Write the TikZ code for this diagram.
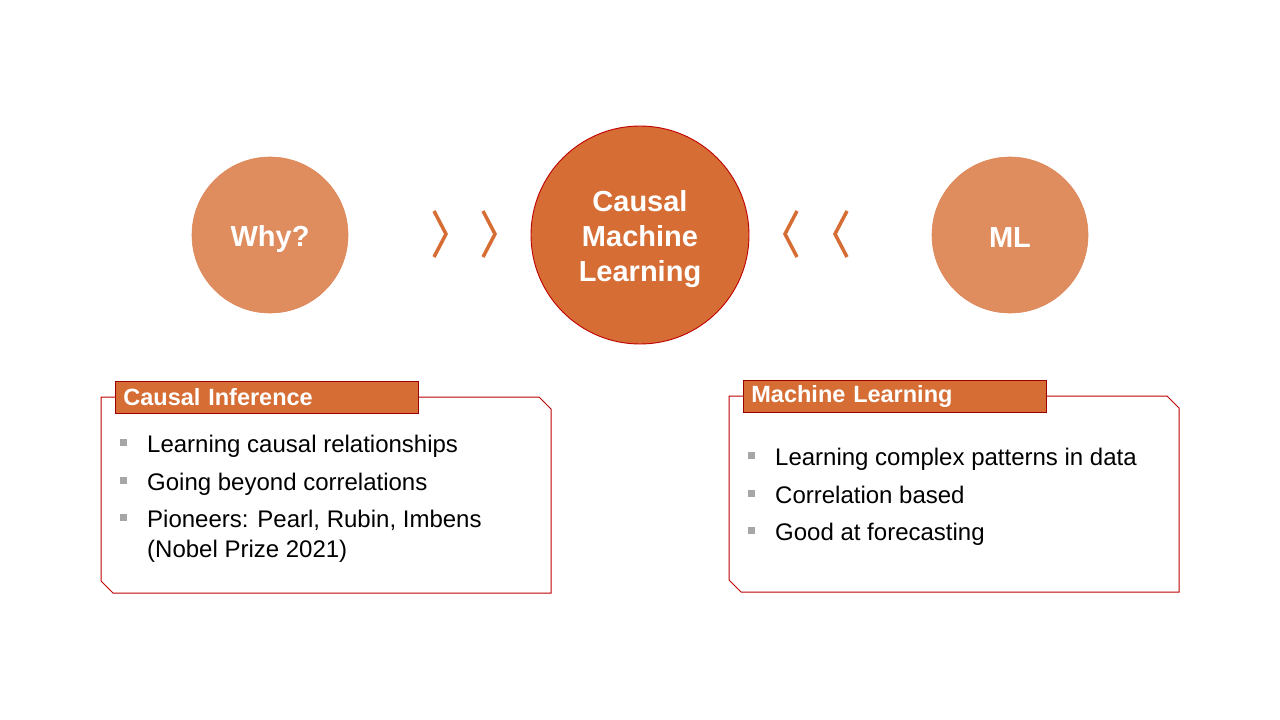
\documentclass[tikz,border=0pt]{standalone}
\usepackage{fontspec}
\setmainfont{Liberation Sans}
\begin{document}
\definecolor{orng}{HTML}{D56D34}
\definecolor{lorng}{HTML}{DF8C5E}
\definecolor{edge}{HTML}{C00000}
\definecolor{bgrey}{HTML}{A6A6A6}
\begin{tikzpicture}[x=1pt,y=-1pt,
  bigcirc/.style={circle,fill=orng,draw=edge,line width=0.9pt,minimum size=218pt,inner sep=0pt},
  sidecirc/.style={circle,fill=lorng,draw=lorng!85!orng,line width=0.6pt,minimum size=156pt,inner sep=0pt},
  ctext/.style={inner sep=0pt,text=white,font=\fontsize{29}{35}\selectfont\bfseries,align=center},
  chev/.style={draw=orng,line width=3.5pt},
  panel/.style={draw=edge,line width=1pt},
  tab/.style={fill=orng,draw=edge!80!black,line width=0.8pt,anchor=north west,minimum width=303pt,minimum height=32pt,
    text width=287pt,inner xsep=8pt,inner ysep=0pt,align=left,text=white,font=\fontsize{23.5}{26}\selectfont\bfseries},
  itm/.style={anchor=base west,inner sep=0pt,font=\fontsize{24}{28}\selectfont,align=left},
  blt/.style={fill=bgrey,minimum size=7pt,inner sep=0pt}]
\useasboundingbox (0,0) rectangle (1280,720);
\fill[white] (0,0) rectangle (1280,720);

% circles
\node[sidecirc] (why) at (270,235) {};
\node[ctext] (whyt) at ([yshift=-4pt]why.center) {Why?};
\node[bigcirc] (cml) at (640,235) {};
\node[ctext] (cmlt) at ([yshift=-4pt]cml.center) {Causal\\Machine\\Learning};
\node[sidecirc] (ml) at (1010,235) {};
\node[ctext] (mlt) at ([yshift=-3pt]ml.center) {ML};

% chevrons pointing to the centre
\coordinate (c1) at (440,234);
\coordinate (c2) at (489,234);
\coordinate (c3) at (791,234);
\coordinate (c4) at (841,234);
\draw[chev] ([shift={(-6,-23)}]c1) -- ([shift={(6,0)}]c1) -- ([shift={(-6,23)}]c1);
\draw[chev] ([shift={(-6,-23)}]c2) -- ([shift={(6,0)}]c2) -- ([shift={(-6,23)}]c2);
\draw[chev] ([shift={(6,-23)}]c3) -- ([shift={(-6,0)}]c3) -- ([shift={(6,23)}]c3);
\draw[chev] ([shift={(6,-23)}]c4) -- ([shift={(-6,0)}]c4) -- ([shift={(6,23)}]c4);

% left panel
\draw[panel] (101,397) -- (539,397) -- (551,409) -- (551,593) -- (113,593) -- (101,581) -- cycle;
\node[tab] (lt) at (115,381) {Causal Inference};
\node[blt] (lb1) at (123,442) {};
\node[itm] (li1) at (147,452) {Learning causal relationships};
\node[blt] (lb2) at (123,480) {};
\node[itm] (li2) at (147,490) {Going beyond correlations};
\node[blt] (lb3) at (123,517) {};
\node[itm] (li3) at (147,527) {Pioneers: Pearl, Rubin, Imbens};
\node[itm] (li4) at (147,557) {(Nobel Prize 2021)};

% right panel
\draw[panel] (729,396) -- (1167,396) -- (1179,408) -- (1179,592) -- (741,592) -- (729,580) -- cycle;
\node[tab] (rt) at (743,380) {Machine Learning};
\node[blt] (rb1) at (751,455) {};
\node[itm] (ri1) at (775,465) {Learning complex patterns in data};
\node[blt] (rb2) at (751,493) {};
\node[itm] (ri2) at (775,503) {Correlation based};
\node[blt] (rb3) at (751,530) {};
\node[itm] (ri3) at (775,540) {Good at forecasting};
\end{tikzpicture}
\end{document}
